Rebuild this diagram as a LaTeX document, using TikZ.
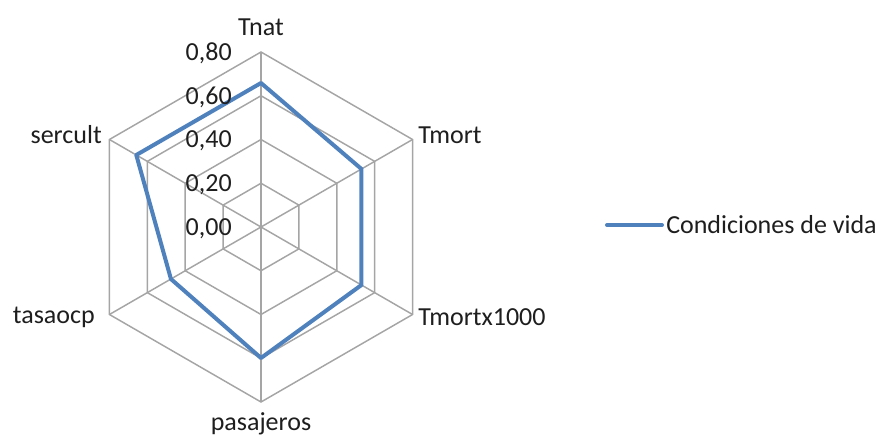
\documentclass[tikz,border=0pt]{standalone}
\usepackage{fontspec}
\setmainfont{Carlito}
\usepackage{xcolor}
\definecolor{gridgray}{RGB}{165,165,165}
\definecolor{serieblue}{RGB}{79,129,189}
\definecolor{labeltext}{RGB}{30,30,30}
\tikzset{
	gridline/.style={draw=gridgray, line width=1.1pt},
	serieline/.style={draw=serieblue, line width=3pt, line join=round},
	lbl/.style={text=labeltext, inner sep=0pt, font=\fontsize{19.5}{23}\selectfont}
}

\begin{document}
\begin{tikzpicture}[x=0.75pt, y=0.75pt]
	\useasboundingbox (0,0) rectangle (885,437);
	\begin{scope}[shift={(261,210)}]
	% rings and spokes
	\foreach \r in {43.75,87.5,131.25,175}
		\draw[gridline] (90:\r) -- (30:\r) -- (-30:\r) -- (-90:\r) -- (-150:\r) -- (150:\r) -- cycle;
	\foreach \a in {90,30,-30,-90,-150,150}
		\draw[gridline] (0,0) -- (\a:175);
	% serie
	\draw[serieline] (90:144) -- (30:116) -- (-30:116) -- (-90:131) -- (-150:104) -- (150:144) -- cycle;
	% scale
	\node[lbl, anchor=east] (v80) at (-29,174) {0,80};
	\node[lbl, anchor=east] (v60) at (-29,130) {0,60};
	\node[lbl, anchor=east] (v40) at (-29,86) {0,40};
	\node[lbl, anchor=east] (v20) at (-29,42) {0,20};
	\node[lbl, anchor=east] (v00) at (-29,-2) {0,00};
	% axes
	\node[lbl] (tnat) at (0,200) {Tnat};
	\node[lbl, anchor=west] (tmort) at (157,92) {Tmort};
	\node[lbl, anchor=west] (tmortx) at (157,-90) {Tmortx1000};
	\node[lbl] (pasajeros) at (0,-197) {pasajeros};
	\node[lbl, anchor=east] (tasaocp) at (-166,-90) {tasaocp};
	\node[lbl, anchor=east] (sercult) at (-159,92) {sercult};
	\end{scope}
	% legend
	\coordinate (legA) at (607,212);
	\coordinate (legB) at (662,212);
	\draw[serieline, line cap=round] (legA) -- (legB);
	\node[lbl, anchor=west] (legtext) at (666,212) {Condiciones de vida};
\end{tikzpicture}
\end{document}
